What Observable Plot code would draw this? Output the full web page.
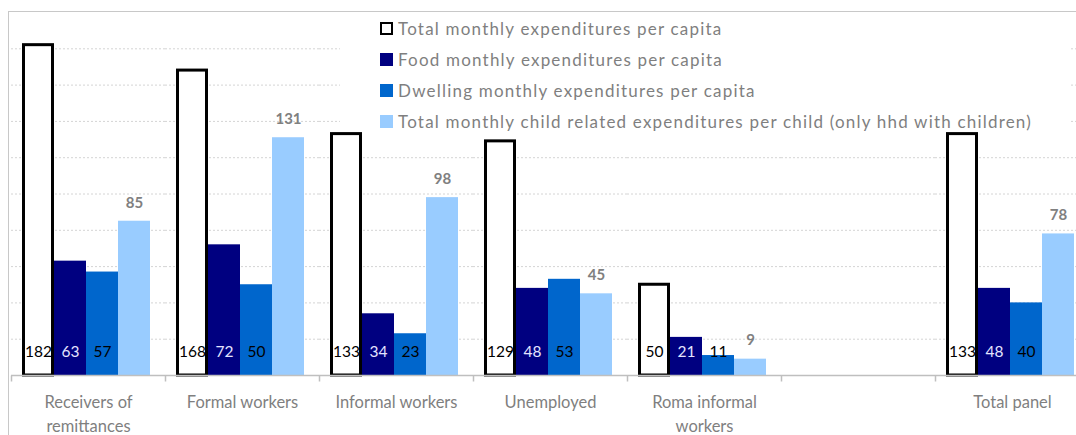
<!DOCTYPE html>
<html>
<head>
<meta charset="utf-8">
<script src="https://cdn.jsdelivr.net/npm/d3@7"></script>
<script src="https://cdn.jsdelivr.net/npm/@observablehq/plot@0.6"></script>
<style>
  html, body { margin: 0; padding: 0; background: #fff; overflow: hidden; }
  #wrap { position: relative; width: 1076px; height: 435px; overflow: hidden; font-family: Lato, sans-serif; }
  #border { position: absolute; left: 8px; top: 11px; width: 1100px; height: 440px; border-left: 1.5px solid #c8c8c8; border-top: 1.5px solid #c8c8c8; pointer-events: none; }
  #legendBox { position: absolute; left: 340px; top: 14px; width: 731px; height: 116px; background: #fff; }
  #legend { position: absolute; left: 380px; top: 12.5px; }
  .row { height: 31px; line-height: 31px; white-space: nowrap; display: flex; align-items: center; }
  .sw { display: inline-block; width: 13px; height: 13px; box-sizing: border-box; margin-right: 5px; flex: none; }
  .lt { font-size: 17px; color: #7f7f7f; }
</style>
</head>
<body>
<div id="wrap"></div>
<script>
const categories = ["Receivers of remittances", "Formal workers", "Informal workers", "Unemployed", "Roma informal workers", " ", "Total panel"];
const categoryLabels = ["Receivers of\nremittances", "Formal workers", "Informal workers", "Unemployed", "Roma informal\nworkers", "", "Total panel"];
const series = [
  "Total monthly expenditures per capita",
  "Food monthly expenditures per capita",
  "Dwelling monthly expenditures per capita",
  "Total monthly child related expenditures per child (only hhd with children)"
];
const totalExp = [182, 168, 133, 129, 50, null, 133];
const foodExp = [63, 72, 34, 48, 21, null, 48];
const dwellingExp = [57, 50, 23, 53, 11, null, 40];
const childExp = [85, 131, 98, 45, 9, null, 78];
const seriesColors = ["#ffffff", "#000080", "#0066cc", "#99ccff"];

const valuesBySeries = [totalExp, foodExp, dwellingExp, childExp];
const data = [];
valuesBySeries.forEach((vals, s) => {
  vals.forEach((v, i) => {
    if (v != null) data.push({cat: categories[i], series: series[s], value: v, s});
  });
});
const bySeries = s => data.filter(d => d.s === s);

const tickSymbol = { draw(ctx) { ctx.moveTo(0, 0); ctx.lineTo(0, 6); } };

const chart = Plot.plot({
  width: 1090,
  height: 435,
  marginTop: 12,
  marginBottom: 60,
  marginLeft: 10,
  marginRight: 0,
  style: { fontFamily: "Lato, sans-serif", maxWidth: "none", background: "transparent", overflow: "visible" },
  fx: { domain: categories, paddingInner: 0, paddingOuter: 0, axis: null },
  x: { domain: series, paddingInner: 0, paddingOuter: 0.4, align: 0.42, axis: null },
  y: { domain: [0, 200], axis: null },
  color: { domain: series, range: seriesColors },
  marks: [
    Plot.gridY([20, 40, 60, 80, 100, 120, 140, 160, 180], { stroke: "#d4d4d4", strokeOpacity: 1, strokeDasharray: "2,2" }),
    Plot.barY(bySeries(1).concat(bySeries(2), bySeries(3)), { fx: "cat", x: "series", y: "value", fill: "series" }),
    Plot.barY(bySeries(0), { fx: "cat", x: "series", y: "value", fill: "#ffffff", stroke: "#000000", strokeWidth: 3, insetLeft: 1.5, insetRight: 1.5 }),
    Plot.ruleY([0], { stroke: "#bfbfbf", strokeWidth: 1.5 }),
    Plot.dot(categories, { fx: d => d, frameAnchor: "bottom-left", symbol: tickSymbol, stroke: "#bfbfbf", strokeWidth: 1.5 }),
    Plot.text(bySeries(0), { fx: "cat", x: "series", text: "value", frameAnchor: "bottom", dy: -19, fontSize: 15.5, fill: "#000000" }),
    Plot.text(bySeries(1), { fx: "cat", x: "series", text: "value", frameAnchor: "bottom", dy: -19, fontSize: 15.5, fill: "#e4e4ff" }),
    Plot.text(bySeries(2), { fx: "cat", x: "series", text: "value", frameAnchor: "bottom", dy: -19, fontSize: 15.5, fill: "#000000" }),
    Plot.text(bySeries(3), { fx: "cat", x: "series", y: "value", text: "value", dy: -18.5, fontSize: 15, fontWeight: "bold", fill: "#808080" }),
    Plot.text(categories, { fx: d => d, text: (d, i) => categoryLabels[i], frameAnchor: "bottom", lineAnchor: "top", dy: 16, lineHeight: 1.42, fontSize: 16.5, fill: "#7f7f7f" })
  ]
});

const wrap = document.getElementById("wrap");
wrap.appendChild(chart);

const border = document.createElement("div");
border.id = "border";
wrap.appendChild(border);

const box = document.createElement("div");
box.id = "legendBox";
wrap.appendChild(box);

const legend = document.createElement("div");
legend.id = "legend";
series.forEach((name, i) => {
  const row = document.createElement("div");
  row.className = "row";
  const sw = document.createElement("span");
  sw.className = "sw";
  if (i === 0) { sw.style.background = "#fff"; sw.style.border = "2.5px solid #000"; }
  else sw.style.background = seriesColors[i];
  const t = document.createElement("span");
  t.className = "lt";
  t.textContent = name;
  row.appendChild(sw);
  row.appendChild(t);
  legend.appendChild(row);
});
wrap.appendChild(legend);

// fit letter spacing so the longest entry spans the same width as in the reference
const texts = legend.querySelectorAll(".lt");
const longest = texts[texts.length - 1];
const natural = longest.getBoundingClientRect().width;
const target = 634;
const ls = (target - natural) / longest.textContent.length;
texts.forEach(t => t.style.letterSpacing = ls + "px");
</script>
</body>
</html>
